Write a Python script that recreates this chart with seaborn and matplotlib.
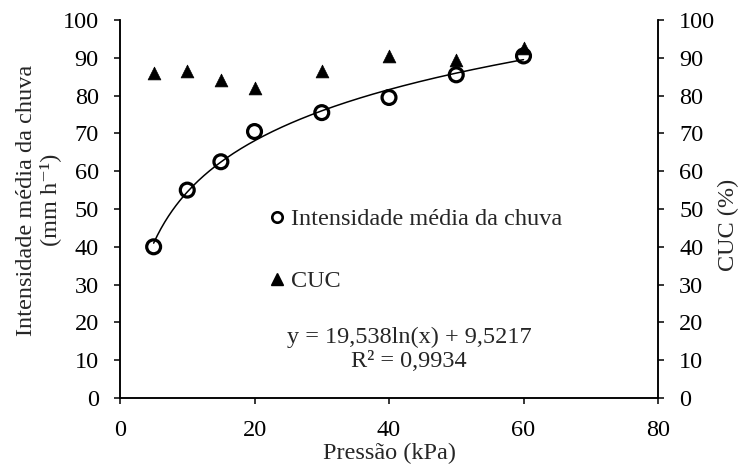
import numpy as np
import pandas as pd
import matplotlib
matplotlib.use("Agg")
import matplotlib.pyplot as plt
import seaborn as sns
from matplotlib.lines import Line2D

pressao = [5, 10, 15, 20, 30, 40, 50, 60]
intensidade = [40.0, 55.0, 62.5, 70.5, 75.5, 79.5, 85.5, 90.5]
cuc = [86.0, 86.5, 84.0, 82.0, 86.5, 90.5, 89.5, 92.5]
coef_a = 19.538
coef_b = 9.5217
eq_text = "y = 19,538ln(x) + 9,5217"
r2_text = "R² = 0,9934"
ylabel_l1 = "Intensidade média da chuva"
ylabel_l2 = "(mm h\u207b\u00b9)"
ticks_y = [0, 10, 20, 30, 40, 50, 60, 70, 80, 90, 100]
ticks_x = [0, 20, 40, 60, 80]

sns.set_style("ticks")
plt.rcParams['font.family'] = ['Liberation Serif', 'DejaVu Serif']
fs = 17.5

df = pd.DataFrame({"p": pressao, "i": intensidade, "c": cuc})
xs = np.linspace(min(pressao), max(pressao), 200)
trend = pd.DataFrame({"p": xs, "y": coef_a * np.log(xs) + coef_b})

fig = plt.figure(figsize=(7.39, 4.71), dpi=100)
ax = fig.add_axes([0.1624, 0.155, 0.728, 0.8025])
ax2 = ax.twinx()

sns.lineplot(data=trend, x="p", y="y", ax=ax, color="black", linewidth=1.1)
sns.scatterplot(data=df, x="p", y="i", ax=ax, marker="o", s=100,
                facecolor="none", edgecolor="black", linewidth=2.3, zorder=3)
sns.scatterplot(data=df, x="p", y="c", ax=ax2, marker="^", s=85,
                color="black", edgecolor="black", linewidth=0.5, zorder=3)

for a in (ax, ax2):
    a.set_ylim(0, 100)
    a.set_yticks(ticks_y)
    a.spines['top'].set_visible(False)
    for s in a.spines.values():
        s.set_linewidth(1.1)
        s.set_color("black")
    a.tick_params(labelsize=fs, length=4.3, width=1.1, direction="out",
                  colors="black", pad=11)
ax.set_xlim(0, 80)
ax.set_xticks(ticks_x)
ax.tick_params(axis="x", pad=11.5)
ax2.spines['right'].set_visible(True)

ax.set_xlabel("Pressão (kPa)", fontsize=fs)
ax.xaxis.set_label_coords(0.5, -0.118)
ax.set_ylabel("")
ax.text(-0.174, 0.524, ylabel_l1, transform=ax.transAxes, rotation=90,
        rotation_mode="anchor", ha="center", va="center", fontsize=fs)
ax.text(-0.130, 0.524, ylabel_l2, transform=ax.transAxes, rotation=90,
        rotation_mode="anchor", ha="center", va="center", fontsize=fs)
ax2.set_ylabel("CUC (%)", fontsize=fs)
ax2.yaxis.set_label_coords(1.111, 0.458)

h_circ = Line2D([], [], marker="o", linestyle="none", markerfacecolor="none",
                markeredgecolor="black", markeredgewidth=1.9, markersize=7.5)
h_tri = Line2D([], [], marker="^", linestyle="none", color="black", markersize=8.5)
common = dict(loc="center left", frameon=False, fontsize=fs, handletextpad=0.05,
              handlelength=1.0, borderaxespad=0, borderpad=0)
leg1 = ax.legend([h_circ], ["Intensidade média da chuva"],
                 bbox_to_anchor=(0.2695, 0.4735), **common)
ax.add_artist(leg1)
leg2 = ax.legend([h_tri], ["CUC"], bbox_to_anchor=(0.2695, 0.3095), **common)

ax.text(0.537, 0.128, eq_text + "\n" + r2_text, transform=ax.transAxes,
        ha="center", va="center", fontsize=fs, linespacing=1.2)

fig.savefig("out.png", dpi=100)
